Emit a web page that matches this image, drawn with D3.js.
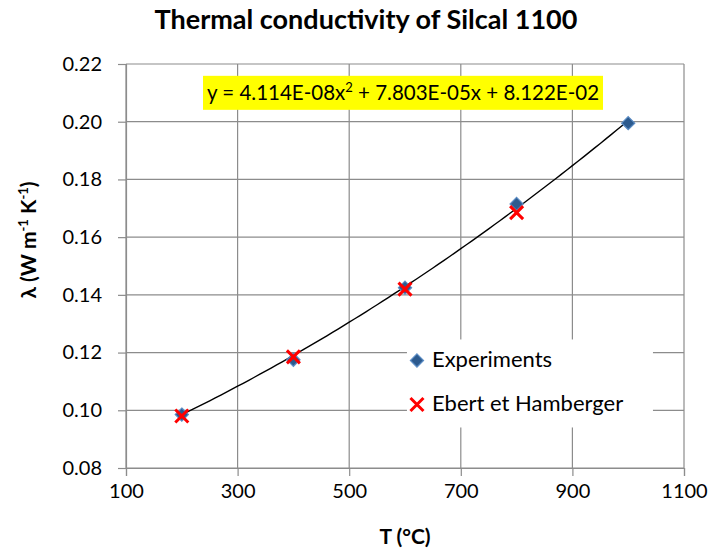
<!DOCTYPE html>
<html>
<head>
<meta charset="utf-8">
<script src="https://cdn.jsdelivr.net/npm/d3@7"></script>
<style>
  body { margin: 0; background: #fff; }
  svg text { font-family: Lato, "Open Sans", sans-serif; fill: #000; }
</style>
</head>
<body>
<svg id="chart" width="714" height="554"></svg>
<script>
// data
const temps = [200, 400, 600, 800, 1000];
const experiments = [0.0985, 0.1175, 0.1425, 0.1715, 0.1995];
const ebertTemps = [200, 400, 600, 800];
const ebert = [0.098, 0.1185, 0.142, 0.1685];
const fitCoeffs = [4.114e-8, 7.803e-5, 8.122e-2]; // trendline from the chart label
const xTicks = [100, 300, 500, 700, 900, 1100];
const yTicks = [0.08, 0.10, 0.12, 0.14, 0.16, 0.18, 0.20, 0.22];

const margin = { top: 64, right: 30, bottom: 86, left: 126 };
const width = 714 - margin.left - margin.right;
const height = 554 - margin.top - margin.bottom;

const svg = d3.select("#chart");
const g = svg.append("g").attr("transform", `translate(${margin.left},${margin.top})`);

const x = d3.scaleLinear().domain([100, 1100]).range([0, width]);
const y = d3.scaleLinear().domain([0.08, 0.22]).range([height, 0]);

// grid
g.selectAll(".vgrid").data(xTicks).enter().append("line")
  .attr("x1", d => x(d)).attr("x2", d => x(d))
  .attr("y1", 0).attr("y2", height)
  .attr("stroke", "#8c8c8c").attr("stroke-width", 1.2);
g.selectAll(".hgrid").data(yTicks).enter().append("line")
  .attr("x1", 0).attr("x2", width)
  .attr("y1", d => y(d)).attr("y2", d => y(d))
  .attr("stroke", "#8c8c8c").attr("stroke-width", 1.2);

// axes
const xAxis = g.append("g")
  .attr("transform", `translate(0,${height})`)
  .call(d3.axisBottom(x).tickValues(xTicks).tickSize(8).tickPadding(8).tickFormat(d3.format("d")));
const yAxis = g.append("g")
  .call(d3.axisLeft(y).tickValues(yTicks).tickSize(8).tickPadding(16).tickFormat(d3.format(".2f")));
[xAxis, yAxis].forEach(a => {
  a.select(".domain").attr("stroke", "#8c8c8c").attr("stroke-width", 1.2);
  a.selectAll(".tick line").attr("stroke", "#8c8c8c").attr("stroke-width", 1.2);
  a.selectAll("text").style("font-size", "20px").style("font-family", "Lato, sans-serif").attr("fill", "#000");
});

// legend background (covers grid)
const legend = g.append("g").attr("transform", `translate(${x(720) - 65},${y(0.1235) - 3})`);
legend.append("rect").attr("x", 0).attr("y", 0).attr("width", 246).attr("height", 88).attr("fill", "#fff");

// trendline
const fitLine = d3.range(200, 1001, 10).map(t => [t, fitCoeffs[0] * t * t + fitCoeffs[1] * t + fitCoeffs[2]]);
g.append("path")
  .datum(fitLine)
  .attr("fill", "none").attr("stroke", "#000").attr("stroke-width", 1.4)
  .attr("d", d3.line().x(d => x(d[0])).y(d => y(d[1])));

const diamond = d3.symbol().type(d3.symbolDiamond2).size(110);
const cross = s => `M${-s},${-s}L${s},${s}M${-s},${s}L${s},${-s}`;

g.selectAll(".exp").data(temps).enter().append("path")
  .attr("transform", (d, i) => `translate(${x(d)},${y(experiments[i])})`)
  .attr("d", diamond)
  .attr("fill", "#2c5a8e").attr("stroke", "#5b8cc4").attr("stroke-width", 1.2);

g.selectAll(".ebert").data(ebertTemps).enter().append("path")
  .attr("transform", (d, i) => `translate(${x(d)},${y(ebert[i])})`)
  .attr("d", cross(6.5))
  .attr("stroke", "#ff0000").attr("stroke-width", 3).attr("fill", "none");

// legend items
legend.append("path").attr("transform", "translate(10,21)").attr("d", diamond)
  .attr("fill", "#2c5a8e").attr("stroke", "#5b8cc4").attr("stroke-width", 1.2);
legend.append("text").attr("x", 25).attr("y", 28).style("font-size", "22px").text("Experiments");
legend.append("path").attr("transform", "translate(10,65)").attr("d", cross(6.5))
  .attr("stroke", "#ff0000").attr("stroke-width", 3);
legend.append("text").attr("x", 25).attr("y", 72).style("font-size", "22px").text("Ebert et Hamberger");

// equation label
const eq = g.append("g").attr("transform", `translate(${x(238)},${y(0.2159)})`);
eq.append("rect").attr("width", 400).attr("height", 34).attr("fill", "#ffff00");
const eqText = eq.append("text").attr("x", 200).attr("y", 24).attr("text-anchor", "middle").style("font-size", "20.5px");
eqText.append("tspan").text("y = 4.114E-08x");
eqText.append("tspan").attr("dy", -8).style("font-size", "13px").text("2");
eqText.append("tspan").attr("dy", 8).text(" + 7.803E-05x + 8.122E-02");

// titles
svg.append("text").attr("x", 366).attr("y", 29).attr("text-anchor", "middle")
  .style("font-size", "27px").style("font-weight", "bold").text("Thermal conductivity of Silcal 1100");
svg.append("text").attr("x", margin.left + width / 2).attr("y", 544).attr("text-anchor", "middle")
  .style("font-size", "21px").style("font-weight", "bold").text("T (°C)");

const yl = svg.append("text").attr("transform", "translate(36,240) rotate(-90)")
  .attr("text-anchor", "middle").style("font-size", "21px").style("font-weight", "bold");
yl.append("tspan").text("λ (W m");
yl.append("tspan").attr("dy", -8).style("font-size", "13px").text("-1");
yl.append("tspan").attr("dy", 8).text(" K");
yl.append("tspan").attr("dy", -8).style("font-size", "13px").text("-1");
yl.append("tspan").attr("dy", 8).text(")");
</script>
</body>
</html>
